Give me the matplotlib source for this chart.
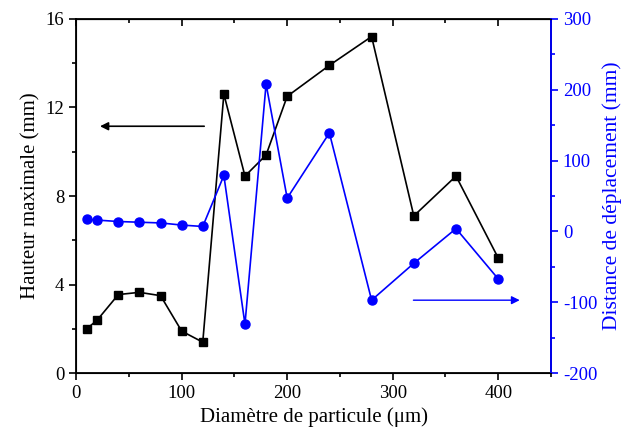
import matplotlib
matplotlib.use('Agg')
import matplotlib.pyplot as plt
from matplotlib.ticker import MultipleLocator

plt.rcParams['font.family'] = ['Liberation Serif', 'DejaVu Serif']
plt.rcParams['axes.unicode_minus'] = False

# Données
diametre = [10, 20, 40, 60, 80, 100, 120, 140, 160, 180, 200, 240, 280, 320, 360, 400]
hauteur = [2.0, 2.4, 3.55, 3.65, 3.5, 1.9, 1.4, 12.6, 8.9, 9.85, 12.5, 13.9, 15.2, 7.1, 8.9, 5.2]
distance = [17, 16, 14, 13, 12, 9, 7, 79, -131, 208, 47, 139, -97, -45, 4, -67]

fig = plt.figure(figsize=(6.24, 4.38), dpi=100)
ax = fig.add_axes([0.122, 0.148, 0.761, 0.809])

# Hauteur maximale (axe gauche)
ax.plot(diametre, hauteur, color='black', marker='s', markersize=5.5, linewidth=1.2)
ax.set_xlim(0, 450)
ax.set_ylim(0, 16)
ax.xaxis.set_major_locator(MultipleLocator(100))
ax.xaxis.set_minor_locator(MultipleLocator(50))
ax.yaxis.set_major_locator(MultipleLocator(4))
ax.yaxis.set_minor_locator(MultipleLocator(2))
ax.tick_params(which='both', direction='out', labelsize=13.5, width=1.2)
ax.tick_params(which='major', length=5)
ax.tick_params(which='minor', length=3)
ax.set_xlabel('Diamètre de particule (μm)', fontsize=15)
ax.set_ylabel('Hauteur maximale (mm)', fontsize=15)
for s in ax.spines.values():
    s.set_linewidth(1.3)

# ticks du haut vers l'intérieur
top = ax.secondary_xaxis('top')
top.xaxis.set_major_locator(MultipleLocator(100))
top.xaxis.set_minor_locator(MultipleLocator(50))
top.tick_params(which='both', direction='in', labeltop=False, width=1.2)
top.tick_params(which='major', length=5)
top.tick_params(which='minor', length=3)

# Distance de déplacement (axe droit)
ax2 = ax.twinx()
ax2.plot(diametre, distance, color='blue', marker='o', markersize=6.5, linewidth=1.2)
ax2.set_ylim(-200, 300)
ax2.yaxis.set_major_locator(MultipleLocator(100))
ax2.yaxis.set_minor_locator(MultipleLocator(50))
ax2.tick_params(which='both', direction='out', labelsize=13.5, colors='blue', width=1.2)
ax2.tick_params(which='major', length=5)
ax2.tick_params(which='minor', length=3)
ax2.spines['right'].set_color('blue')
ax2.spines['right'].set_linewidth(1.3)
ax2.set_ylabel('Distance de déplacement (mm)', fontsize=15.5, color='blue')

# Flèches
ax.annotate('', xy=(20, 11.15), xytext=(124, 11.15),
            arrowprops=dict(arrowstyle='-|>', color='black', lw=1.2, mutation_scale=12))
ax2.annotate('', xy=(423, -97), xytext=(317, -97),
             arrowprops=dict(arrowstyle='-|>', color='blue', lw=1.0, mutation_scale=12))

fig.savefig('out.png', dpi=100)
